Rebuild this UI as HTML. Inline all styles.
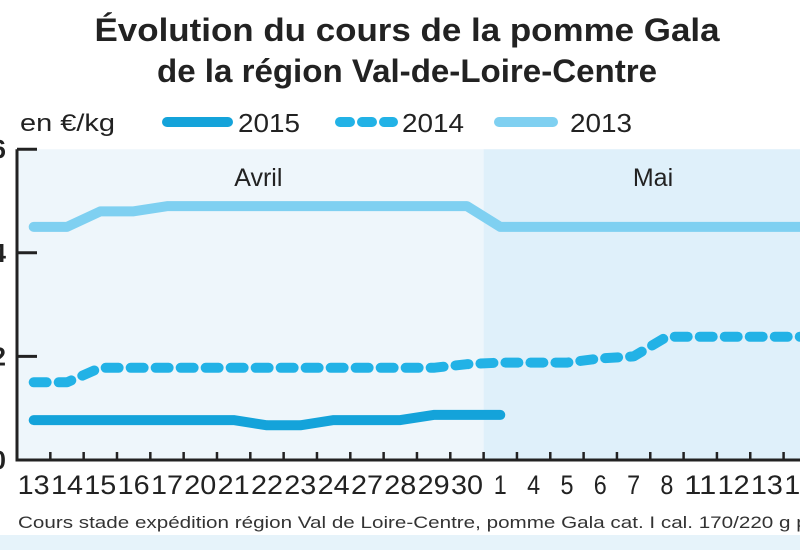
<!DOCTYPE html>
<html><head><meta charset="utf-8"><style>
body{margin:0;background:#fff;width:800px;height:550px;overflow:hidden;font-family:"Liberation Sans",sans-serif}
</style></head><body>
<svg width="800" height="550" xmlns="http://www.w3.org/2000/svg">
<rect x="0" y="535" width="800" height="15" fill="#e6f3fa"/>
<text x="407" y="41" text-anchor="middle" font-size="32" font-weight="bold" fill="#222" textLength="625" lengthAdjust="spacingAndGlyphs">Évolution du cours de la pomme Gala</text>
<text x="407" y="82" text-anchor="middle" font-size="32" font-weight="bold" fill="#222" textLength="500" lengthAdjust="spacingAndGlyphs">de la région Val-de-Loire-Centre</text>
<g id="legend">
<text x="20" y="131" font-size="24" fill="#222" textLength="95" lengthAdjust="spacingAndGlyphs">en €/kg</text>
<line x1="167" y1="122" x2="228" y2="122" stroke="#14a3da" stroke-width="10" stroke-linecap="round"/>
<text x="238" y="132" font-size="26" fill="#222" textLength="62" lengthAdjust="spacingAndGlyphs">2015</text>
<line x1="340" y1="122" x2="393" y2="122" stroke="#22b2e6" stroke-width="10" stroke-linecap="round" stroke-dasharray="10,12"/>
<text x="402" y="132" font-size="26" fill="#222" textLength="62" lengthAdjust="spacingAndGlyphs">2014</text>
<line x1="499" y1="122" x2="553" y2="122" stroke="#7fd0f1" stroke-width="10" stroke-linecap="round"/>
<text x="570" y="132" font-size="26" fill="#222" textLength="62" lengthAdjust="spacingAndGlyphs">2013</text>
</g>
<g id="plot"></g>
<text x="18" y="528" font-size="17" fill="#333" textLength="800" lengthAdjust="spacingAndGlyphs">Cours stade expédition région Val de Loire-Centre, pomme Gala cat. I cal. 170/220 g plt</text>
</svg>
<script>
const categories=["13","14","15","16","17","20","21","22","23","24","27","28","29","30","1","4","5","6","7","8","11","12","13","14"];
const values2013=[4.5,4.5,4.8,4.8,4.9,4.9,4.9,4.9,4.9,4.9,4.9,4.9,4.9,4.9,4.5,4.5,4.5,4.5,4.5,4.5,4.5,4.5,4.5,4.5];
const values2014=[1.5,1.5,1.78,1.78,1.78,1.78,1.78,1.78,1.78,1.78,1.78,1.78,1.78,1.85,1.88,1.88,1.88,1.96,2.0,2.38,2.38,2.38,2.38,2.38];
const values2015=[0.77,0.77,0.77,0.77,0.77,0.77,0.77,0.67,0.67,0.77,0.77,0.77,0.87,0.87,0.87];
const yTicks=[0,2,4,6];
const ns="http://www.w3.org/2000/svg";
const g=document.getElementById('plot');
const X0=17,Y0=460,step=33.33,ppu=51.8;
const xs=i=>X0+step*(i+0.5);
const ys=v=>Y0-v*ppu;
function mk(t,a){const e=document.createElementNS(ns,t);for(const k in a)e.setAttribute(k,a[k]);g.appendChild(e);return e;}
const mayIdx=categories.indexOf("1");
let r=mk('rect',{x:X0,y:ys(6),width:xs(mayIdx)-step/2-X0,height:Y0-ys(6),fill:'#eef6fb'});


r=mk('rect',{x:xs(mayIdx)-step/2,y:ys(6),width:800,height:Y0-ys(6),fill:'#dff0fa'});


let t=mk('text',{x:(X0+xs(mayIdx)-step/2)/2+8,y:ys(6)+37,'font-size':25,fill:'#222','text-anchor':'middle'});t.textContent='Avril';


t=mk('text',{x:653,y:ys(6)+37,'font-size':25,fill:'#222','text-anchor':'middle'});t.textContent='Mai';


let ax=mk('path',{d:`M${X0},${ys(6)}V${Y0}H800`,stroke:'#222','stroke-width':3,fill:'none'});


yTicks.forEach(v=>{
 let l=mk('line',{x1:X0,x2:X0+20,y1:ys(v),y2:ys(v),stroke:'#222','stroke-width':3});
 
 
 let tt=mk('text',{x:6,y:ys(v)+9,'font-size':26,'font-weight':'bold',fill:'#222','text-anchor':'end'});tt.textContent=v;
 
 
});
categories.forEach((c,i)=>{
 if(i>0){let l=mk('line',{x1:xs(i)-step/2,x2:xs(i)-step/2,y1:Y0,y2:Y0-8,stroke:'#222','stroke-width':2.5});
 
 }
 let tt=mk('text',{x:xs(i),y:Y0+34,'font-size':27,fill:'#222','text-anchor':'middle',textLength:c.length>1?32:13,lengthAdjust:'spacingAndGlyphs'});tt.textContent=c;
 
 
});
function line(vals,color,dash,name){
 const d=vals.map((v,i)=>(i?'L':'M')+xs(i)+','+ys(v)).join('');
 const p=mk('path',{d,stroke:color,'stroke-width':10,fill:'none','stroke-linecap':'round','stroke-linejoin':'round'});
 if(dash)p.setAttribute('stroke-dasharray',dash);
 
 
}
line(values2013,'#7fd0f1',null,'series-2013');
line(values2014,'#22b2e6','13,12','series-2014');
line(values2015,'#14a3da',null,'series-2015');
</script>
</body></html>
